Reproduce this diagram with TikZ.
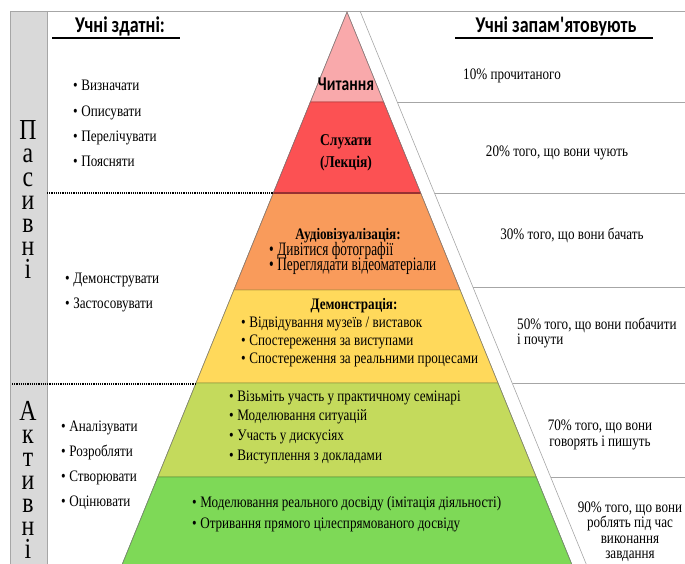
\documentclass[tikz,border=0pt]{standalone}
\usepackage{fontspec}
\setmainfont{Liberation Serif}[FakeStretch=0.82]
\newfontfamily\headfont{Carlito}[FakeStretch=0.8]
\newfontfamily\narrowfont{Liberation Serif}[FakeStretch=0.7]
\usetikzlibrary{calc}

\definecolor{readpink}{HTML}{F9A9AB}
\definecolor{listenred}{HTML}{FC5153}
\definecolor{avorange}{HTML}{F99B5B}
\definecolor{demoyellow}{HTML}{FFD95B}
\definecolor{discgreen}{HTML}{C4DA5C}
\definecolor{dogreen}{HTML}{7ED957}
\definecolor{bandgray}{HTML}{D9D9D9}

\newcommand{\itemdot}{\textbullet\hspace{3.5pt}}

\begin{document}
\begin{tikzpicture}[
  x=1pt, y=-1pt,
  item/.style={anchor=base west, inner sep=0pt, font=\fontsize{16}{18}\selectfont},
  ctext/.style={anchor=base, inner sep=0pt, font=\fontsize{16}{18}\selectfont},
  bigitem/.style={anchor=base west, inner sep=0pt, text height=10pt, text depth=2pt, font=\narrowfont\fontsize{19}{20}\selectfont},
  head/.style={anchor=base, inner sep=0pt, font=\headfont\bfseries\fontsize{22.5}{26}\selectfont},
  vletter/.style={anchor=base, inner sep=0pt, text height=12pt, text depth=0pt, font=\fontsize{29}{30}\selectfont},
  rule/.style={gray!70, line width=0.6pt},
  sepline/.style={densely dotted, line width=1.2pt}
]
\useasboundingbox (0,0) rectangle (685,564);

% frame and side band
\fill[bandgray] (10,11) rectangle (47,566);
\draw[rule] (10,566) -- (10,11) -- (685,11);
\draw[rule] (47,11) -- (47,566);

% pyramid
\foreach \ya/\yb/\col in {12/102/readpink,102/193/listenred,193/290/avorange,290/383/demoyellow,383/477/discgreen,477/566/dogreen}
  \filldraw[fill=\col, draw=\col!75!black, line width=0.6pt]
    ({347-0.407*(\ya-12)},\ya) -- ({347+0.407*(\ya-12)},\ya) -- ({347+0.407*(\yb-12)},\yb) -- ({347-0.407*(\yb-12)},\yb) -- cycle;
\draw[listenred!60!black, line width=1.5pt] (273.3,193) -- (420.7,193);
\draw[gray, line width=0.5pt] (121.5,566) -- (347,12) -- (572.5,566);

% right table
\draw[rule] (360,11) -- (587,566);
\foreach \y in {102,193,287,383,477}
  \draw[rule] ({360+0.41*(\y-11)},\y) -- (685,\y);

% dotted separators
\draw[sepline] (47,193) -- (273,193);
\draw[sepline] (12,384) -- (196,384);

% headings
\node[head] (ablehead) at (120,33) {Учні здатні:};
\draw[line width=1.5pt] (52,38) -- (180,38);
\node[head] (keephead) at (556,33) {Учні запам'ятовують};
\draw[line width=1.5pt] (455,38) -- (653,38);

% side band letters
\foreach \l [count=\i from 0] in {П,а,с,и,в,н,і}
  \node[vletter] (pas\i) at (28,{140+23*\i}) {\l};
\foreach \l [count=\i from 0] in {А,к,т,и,в,н,і}
  \node[vletter] (act\i) at (28,{420+23*\i}) {\l};

% left column
\foreach \t [count=\i from 0] in {Визначати,Описувати,Перелічувати,Поясняти}
  \node[item] (able\i) at (73,{91+25.3*\i}) {\itemdot\t};
\foreach \t [count=\i from 0] in {Демонструвати,Застосовувати}
  \node[item] (apply\i) at (65,{283+25*\i}) {\itemdot\t};
\foreach \t [count=\i from 0] in {Аналізувати,Розробляти,Створювати,Оцінювати}
  \node[item] (make\i) at (61,{431+25.3*\i}) {\itemdot\t};

% pyramid texts
\node[anchor=base, inner sep=0pt, font=\headfont\bfseries\fontsize{19.5}{22}\selectfont] (read) at (346,91) {Читання};
\node[ctext, font=\bfseries\fontsize{16.5}{18}\selectfont] (listen) at (346,146) {Слухати};
\node[ctext, font=\bfseries\fontsize{16.5}{18}\selectfont] (lecture) at (346,168) {(Лекція)};
\node[ctext, font=\bfseries\fontsize{16}{18}\selectfont] (avhead) at (348,239) {Аудіовізуалізація:};
\foreach \t [count=\i from 0] in {Дивітися фотографії,Переглядати відеоматеріали}
  \node[bigitem] (av\i) at (269,{255+15*\i}) {\itemdot\t};
\node[ctext, font=\bfseries\fontsize{16}{18}\selectfont] (demohead) at (354,309) {Демонстрація:};
\foreach \t [count=\i from 0] in {Відвідування музеїв / виставок,Спостереження за виступами,Спостереження за реальними процесами}
  \node[item] (demo\i) at (241,{327+18*\i}) {\itemdot\t};
\foreach \t [count=\i from 0] in {Візьміть участь у практичному семінарі,Моделювання ситуацій,Участь у дискусіях,Виступлення з докладами}
  \node[item] (disc\i) at (229,{401+19.7*\i}) {\itemdot\t};
\foreach \t [count=\i from 0] in {Моделювання реального досвіду (імітація діяльності),Отривання прямого цілеспрямованого досвіду}
  \node[item] (do\i) at (192,{507+21*\i}) {\itemdot\t};

% right column
\node[item] (keep10) at (463,80) {10\% прочитаного};
\node[ctext] (keep20) at (557,157) {20\% того, що вони чують};
\node[ctext] (keep30) at (572,240) {30\% того, що вони бачать};
\node[item] (keep50a) at (517,329) {50\% того, що вони побачити};
\node[item] (keep50b) at (517,344) {і почути};
\node[ctext] (keep70a) at (600,430) {70\% того, що вони};
\node[ctext] (keep70b) at (600,446) {говорять і пишуть};
\foreach \t [count=\i from 0] in {{90\% того, що вони},роблять під час,виконання,завдання}
  \node[ctext] (keep90\i) at (630,{512+15.5*\i}) {\t};
\end{tikzpicture}
\end{document}
